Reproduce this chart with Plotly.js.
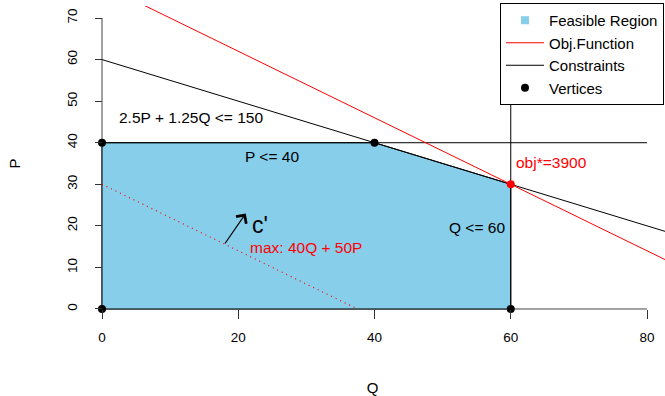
<!DOCTYPE html>
<html>
<head>
<meta charset="utf-8">
<script src="https://cdn.plot.ly/plotly-3.0.1.min.js"></script>
<style>html,body{margin:0;padding:0;background:#fff;}#chart{width:665px;height:396px;}</style>
</head>
<body>
<div id="chart"></div>
<script>
// Feasible region polygon (Q, P)
var regionQ = [0, 0, 40, 60, 60, 0];
var regionP = [0, 40, 40, 30, 0, 0];
// Objective function at optimum: 40Q + 50P = 3900
var objQ = [0, 97.5];
var objP = [78, 0];
// Objective function reference (dotted): 40Q + 50P = 1500
var objRefQ = [0, 37.5];
var objRefP = [30, 0];
// Constraint 2.5P + 1.25Q <= 150
var cons1Q = [0, 120];
var cons1P = [60, 0];
// Constraint P <= 40
var cons2Q = [0, 80];
var cons2P = [40, 40];
// Constraint Q <= 60
var cons3Q = [60, 60];
var cons3P = [0, 70];
// Vertices
var vertQ = [0, 0, 40, 60];
var vertP = [0, 40, 40, 0];
var optQ = [60];
var optP = [30];
// Axis ticks
var xTicks = [0, 20, 40, 60, 80];
var yTicks = [0, 10, 20, 30, 40, 50, 60, 70];
// Legend labels
var legendNames = ['Feasible Region', 'Obj.Function', 'Constraints', 'Vertices'];

var FONT = 'Liberation Sans, Arial, Helvetica, sans-serif';
var SKY = '#87CEEB';

var traces = [
  {x: regionQ, y: regionP, type: 'scatter', mode: 'lines', fill: 'toself', fillcolor: SKY,
   line: {color: '#000', width: 1}, showlegend: false, hoverinfo: 'skip'},
  {x: objRefQ, y: objRefP, type: 'scatter', mode: 'lines',
   line: {color: '#ff0000', width: 1.2, dash: '1px,4px'}, showlegend: false},
  {x: cons2Q, y: cons2P, type: 'scatter', mode: 'lines', line: {color: '#000', width: 1}, showlegend: false},
  {x: cons3Q, y: cons3P, type: 'scatter', mode: 'lines', line: {color: '#000', width: 1}, showlegend: false},
  {x: cons1Q, y: cons1P, type: 'scatter', mode: 'lines', line: {color: '#000', width: 1},
   name: legendNames[2], legendrank: 3},
  {x: objQ, y: objP, type: 'scatter', mode: 'lines', line: {color: '#ff0000', width: 1},
   name: legendNames[1], legendrank: 2},
  {x: vertQ, y: vertP, type: 'scatter', mode: 'markers', marker: {color: '#000', size: 8},
   name: legendNames[3], legendrank: 4, cliponaxis: false},
  {x: optQ, y: optP, type: 'scatter', mode: 'markers', marker: {color: '#ff0000', size: 8},
   showlegend: false, cliponaxis: false},
  {x: [null], y: [null], type: 'scatter', mode: 'markers',
   marker: {color: SKY, size: 8, symbol: 'square'}, name: legendNames[0], legendrank: 1}
];

var L = 80, R = 0, T = 6, B = 75;
var W = 665, H = 396;
var xr = [-3.23, 82.64], yr = [-2.89, 72.89];
var xpos0 = (0 - xr[0]) / (xr[1] - xr[0]);
var ypos0 = (0 - yr[0]) / (yr[1] - yr[0]);

var layout = {
  width: W, height: H,
  margin: {l: L, r: R, t: T, b: B, pad: 0},
  paper_bgcolor: '#fff', plot_bgcolor: '#fff',
  font: {family: FONT, color: '#000', size: 13.5},
  showlegend: true,
  xaxis: {
    range: xr, anchor: 'free', position: ypos0,
    showgrid: false, zeroline: false, showline: false,
    ticks: 'outside', ticklen: 9, tickwidth: 1, tickcolor: '#333',
    tickvals: xTicks, ticktext: xTicks.map(String), ticklabelstandoff: 7,
    tickfont: {family: FONT, size: 13.5, color: '#000'},
    title: {text: 'Q', font: {family: FONT, size: 15, color: '#000'}, standoff: 38}
  },
  yaxis: {
    range: yr, anchor: 'free', position: xpos0,
    showgrid: false, zeroline: false, showline: false,
    ticks: 'outside', ticklen: 7, tickwidth: 1, tickcolor: '#333',
    tickvals: yTicks, ticktext: yTicks.map(String), tickangle: -90, ticklabelstandoff: 13,
    tickfont: {family: FONT, size: 13.5, color: '#000'},
    title: {text: 'P', font: {family: FONT, size: 15, color: '#000'}, standoff: 39}
  },
  shapes: [
    {type: 'line', xref: 'x', yref: 'y', x0: xTicks[0], x1: xTicks[xTicks.length - 1], y0: 0, y1: 0,
     line: {color: '#444', width: 1}, layer: 'below'},
    {type: 'line', xref: 'x', yref: 'y', x0: 0, x1: 0, y0: yTicks[0], y1: yTicks[yTicks.length - 1],
     line: {color: '#444', width: 1}, layer: 'below'}
  ],
  legend: {
    x: (500 - L) / (W - L - R), y: (H - B - 3) / (H - T - B), xanchor: 'left', yanchor: 'top',
    bgcolor: '#fff', bordercolor: '#000', borderwidth: 1,
    font: {family: FONT, size: 15, color: '#000'},
    itemwidth: 38, tracegroupgap: 0
  },
  annotations: [
    {x: 13, y: 46.1, xref: 'x', yref: 'y', text: '2.5P + 1.25Q <= 150', showarrow: false,
     font: {family: FONT, size: 15.5, color: '#000'}, xanchor: 'center', yanchor: 'middle'},
    {x: 25, y: 36.8, xref: 'x', yref: 'y', text: 'P <= 40', showarrow: false,
     font: {family: FONT, size: 15.5, color: '#000'}, xanchor: 'center', yanchor: 'middle'},
    {x: 55, y: 19.7, xref: 'x', yref: 'y', text: 'Q <= 60', showarrow: false,
     font: {family: FONT, size: 15.5, color: '#000'}, xanchor: 'center', yanchor: 'middle'},
    {x: 66, y: 35.2, xref: 'x', yref: 'y', text: 'obj*=3900', showarrow: false,
     font: {family: FONT, size: 15.5, color: '#ff0000'}, xanchor: 'center', yanchor: 'middle'},
    {x: 29.9, y: 14.7, xref: 'x', yref: 'y', text: 'max: 40Q + 50P', showarrow: false,
     font: {family: FONT, size: 15.5, color: '#ff0000'}, xanchor: 'center', yanchor: 'middle'},
    {x: 23.2, y: 20.2, xref: 'x', yref: 'y', text: "c'", showarrow: false,
     font: {family: FONT, size: 23, color: '#000'}, xanchor: 'center', yanchor: 'middle'},
    {x: 21.1, y: 23.0, ax: 17.9, ay: 15.4, xref: 'x', yref: 'y', axref: 'x', ayref: 'y',
     text: '', showarrow: true, arrowhead: 4, arrowsize: 2, arrowwidth: 1.2, arrowcolor: '#000',
     standoff: 0, startstandoff: 0}
  ]
};

Plotly.newPlot('chart', traces, layout, {displayModeBar: false, staticPlot: true});
</script>
</body>
</html>
